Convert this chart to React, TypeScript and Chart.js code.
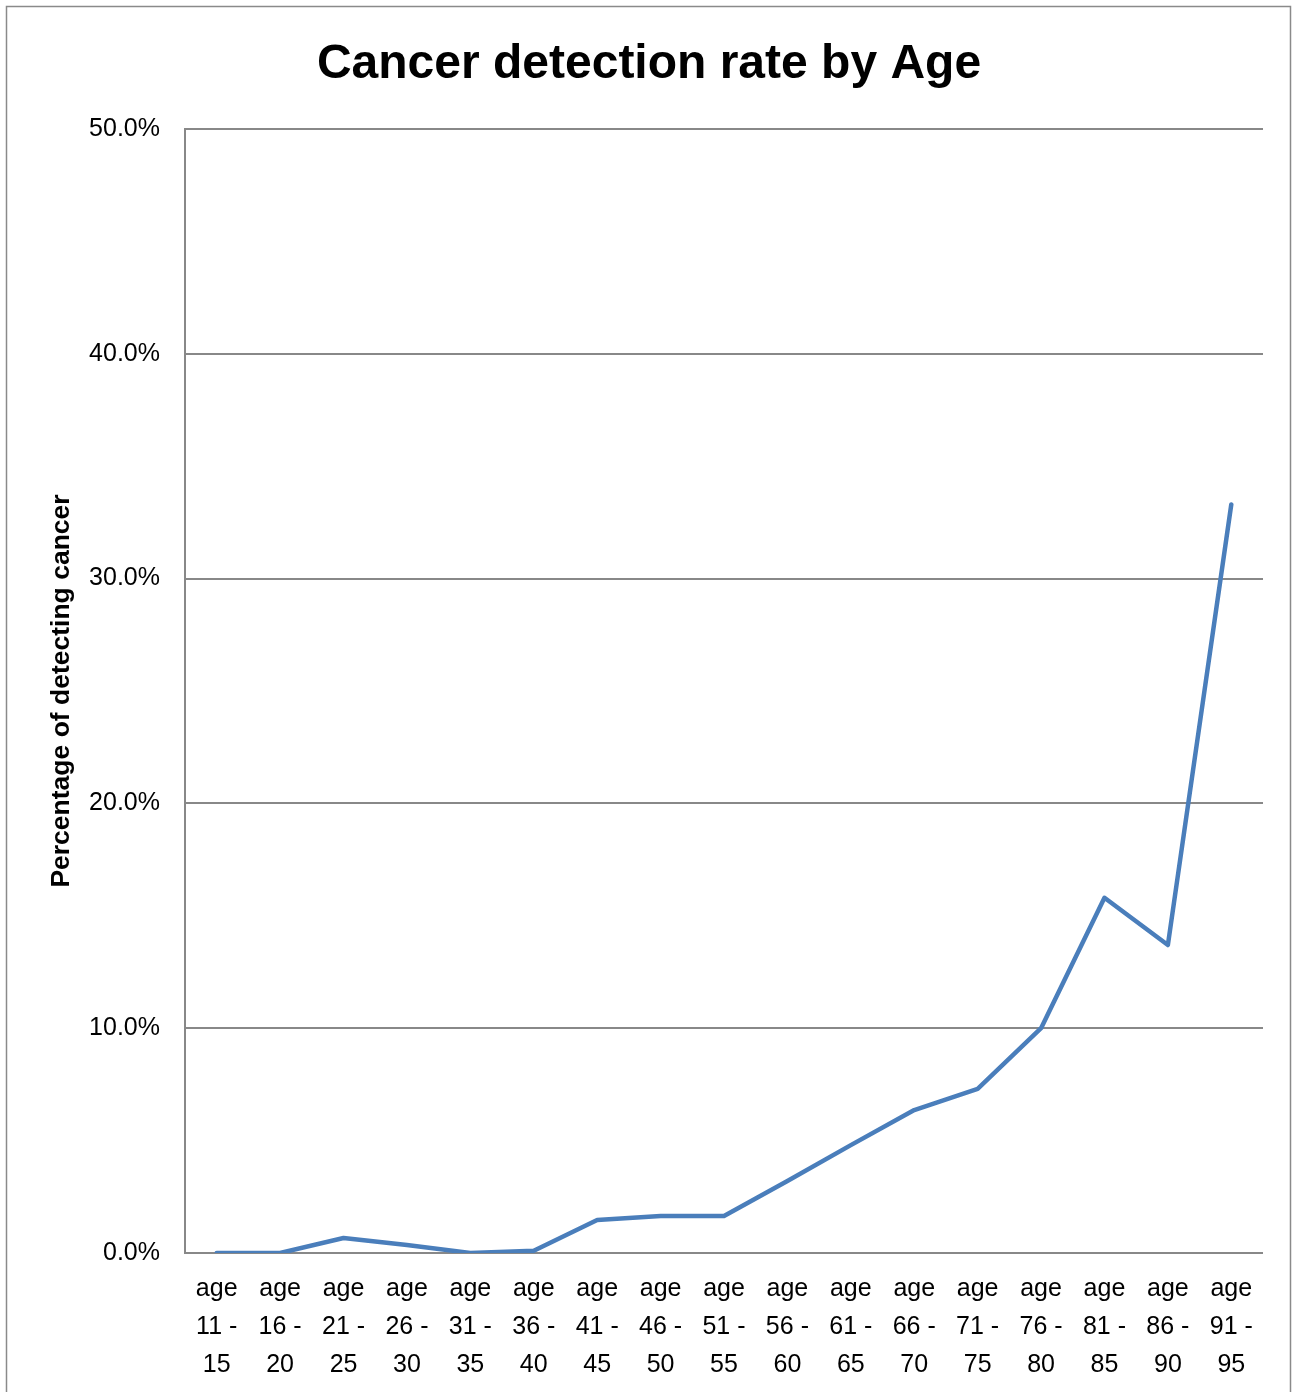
import React, { useEffect, useRef } from "react";
import { Chart, registerables } from "chart.js";

Chart.register(...registerables);

// Age bands (years) and detection rate in percent
const ageGroups = [
  "11 - 15", "16 - 20", "21 - 25", "26 - 30", "31 - 35", "36 - 40",
  "41 - 45", "46 - 50", "51 - 55", "56 - 60", "61 - 65", "66 - 70",
  "71 - 75", "76 - 80", "81 - 85", "86 - 90", "91 - 95",
];
const detectionRate = [
  0, 0, 0.67, 0.36, 0, 0.1, 1.47, 1.65, 1.65, 3.2, 4.8, 6.36, 7.3, 10.0,
  15.8, 13.7, 33.3,
];
const yTicks = [0, 10, 20, 30, 40, 50];

const TITLE = "Cancer detection rate by Age";
const FONT = "'Liberation Sans', Arial, sans-serif";
const GRID = "#888888";

// "age 11 - 15" split onto three lines: "age" / "11 -" / "15"
const labels = ageGroups.map((g) => {
  const [from, to] = g.split(" - ");
  return ["age", `${from} -`, to];
});

// White background, thin frame around the whole chart and the centred title
const framePlugin = {
  id: "frame",
  beforeDraw(chart: any) {
    const { ctx } = chart;
    ctx.save();
    ctx.fillStyle = "#ffffff";
    ctx.fillRect(0, 0, chart.width, chart.height);
    ctx.strokeStyle = "#8a8a8a";
    ctx.lineWidth = 1.5;
    ctx.strokeRect(6.5, 6.5, 1284, 1400);
    ctx.restore();
  },
  afterDraw(chart: any) {
    const { ctx } = chart;
    ctx.save();
    ctx.fillStyle = "#000000";
    ctx.font = `bold 48px ${FONT}`;
    ctx.textAlign = "center";
    ctx.textBaseline = "alphabetic";
    ctx.fillText(TITLE, 649, 78);
    ctx.restore();
  },
};

export default function App() {
  const canvasRef = useRef<HTMLCanvasElement | null>(null);

  useEffect(() => {
    document.body.style.margin = "0";
    const canvas = canvasRef.current;
    if (!canvas) return;
    const chart = new Chart(canvas, {
      type: "line",
      data: {
        labels,
        datasets: [
          {
            label: "Detection rate",
            data: detectionRate,
            borderColor: "#4a7ebb",
            backgroundColor: "#4a7ebb",
            borderWidth: 4.5,
            borderCapStyle: "round",
            borderJoinStyle: "round",
            pointRadius: 0,
            pointHoverRadius: 0,
            tension: 0,
            fill: false,
          },
        ],
      },
      options: {
        animation: false,
        responsive: true,
        maintainAspectRatio: false,
        layout: { padding: { left: 0, right: 29, top: 129, bottom: 0 } },
        plugins: {
          legend: { display: false },
          tooltip: { enabled: false },
          title: { display: false },
        },
        scales: {
          x: {
            type: "category",
            offset: true,
            grid: { display: false, drawTicks: false },
            border: { display: false },
            ticks: {
              color: "#000000",
              font: { family: FONT, size: 25, lineHeight: 1.52 },
              autoSkip: false,
              maxRotation: 0,
              minRotation: 0,
              padding: 17,
            },
            afterFit(scale: any) {
              scale.height = 139;
            },
          },
          y: {
            min: 0,
            max: 50,
            afterBuildTicks(scale: any) {
              scale.ticks = yTicks.map((v) => ({ value: v }));
            },
            grid: {
              color: GRID,
              lineWidth: 2,
              drawTicks: false,
            },
            border: { display: true, color: GRID, width: 2 },
            ticks: {
              color: "#000000",
              font: { family: FONT, size: 25 },
              padding: 25,
              callback: (v: any) => `${Number(v).toFixed(1)}%`,
            },
            title: {
              display: true,
              text: "Percentage of detecting cancer",
              color: "#000000",
              font: { family: FONT, size: 26.5, weight: "bold", lineHeight: 1.2 },
              padding: { top: 46, bottom: 0 },
            },
            afterFit(scale: any) {
              scale.width = 185;
            },
          },
        },
      },
      plugins: [framePlugin],
    });
    return () => chart.destroy();
  }, []);

  return (
    <div style={{ position: "relative", width: 1292, height: 1392 }}>
      <canvas ref={canvasRef} />
    </div>
  );
}
